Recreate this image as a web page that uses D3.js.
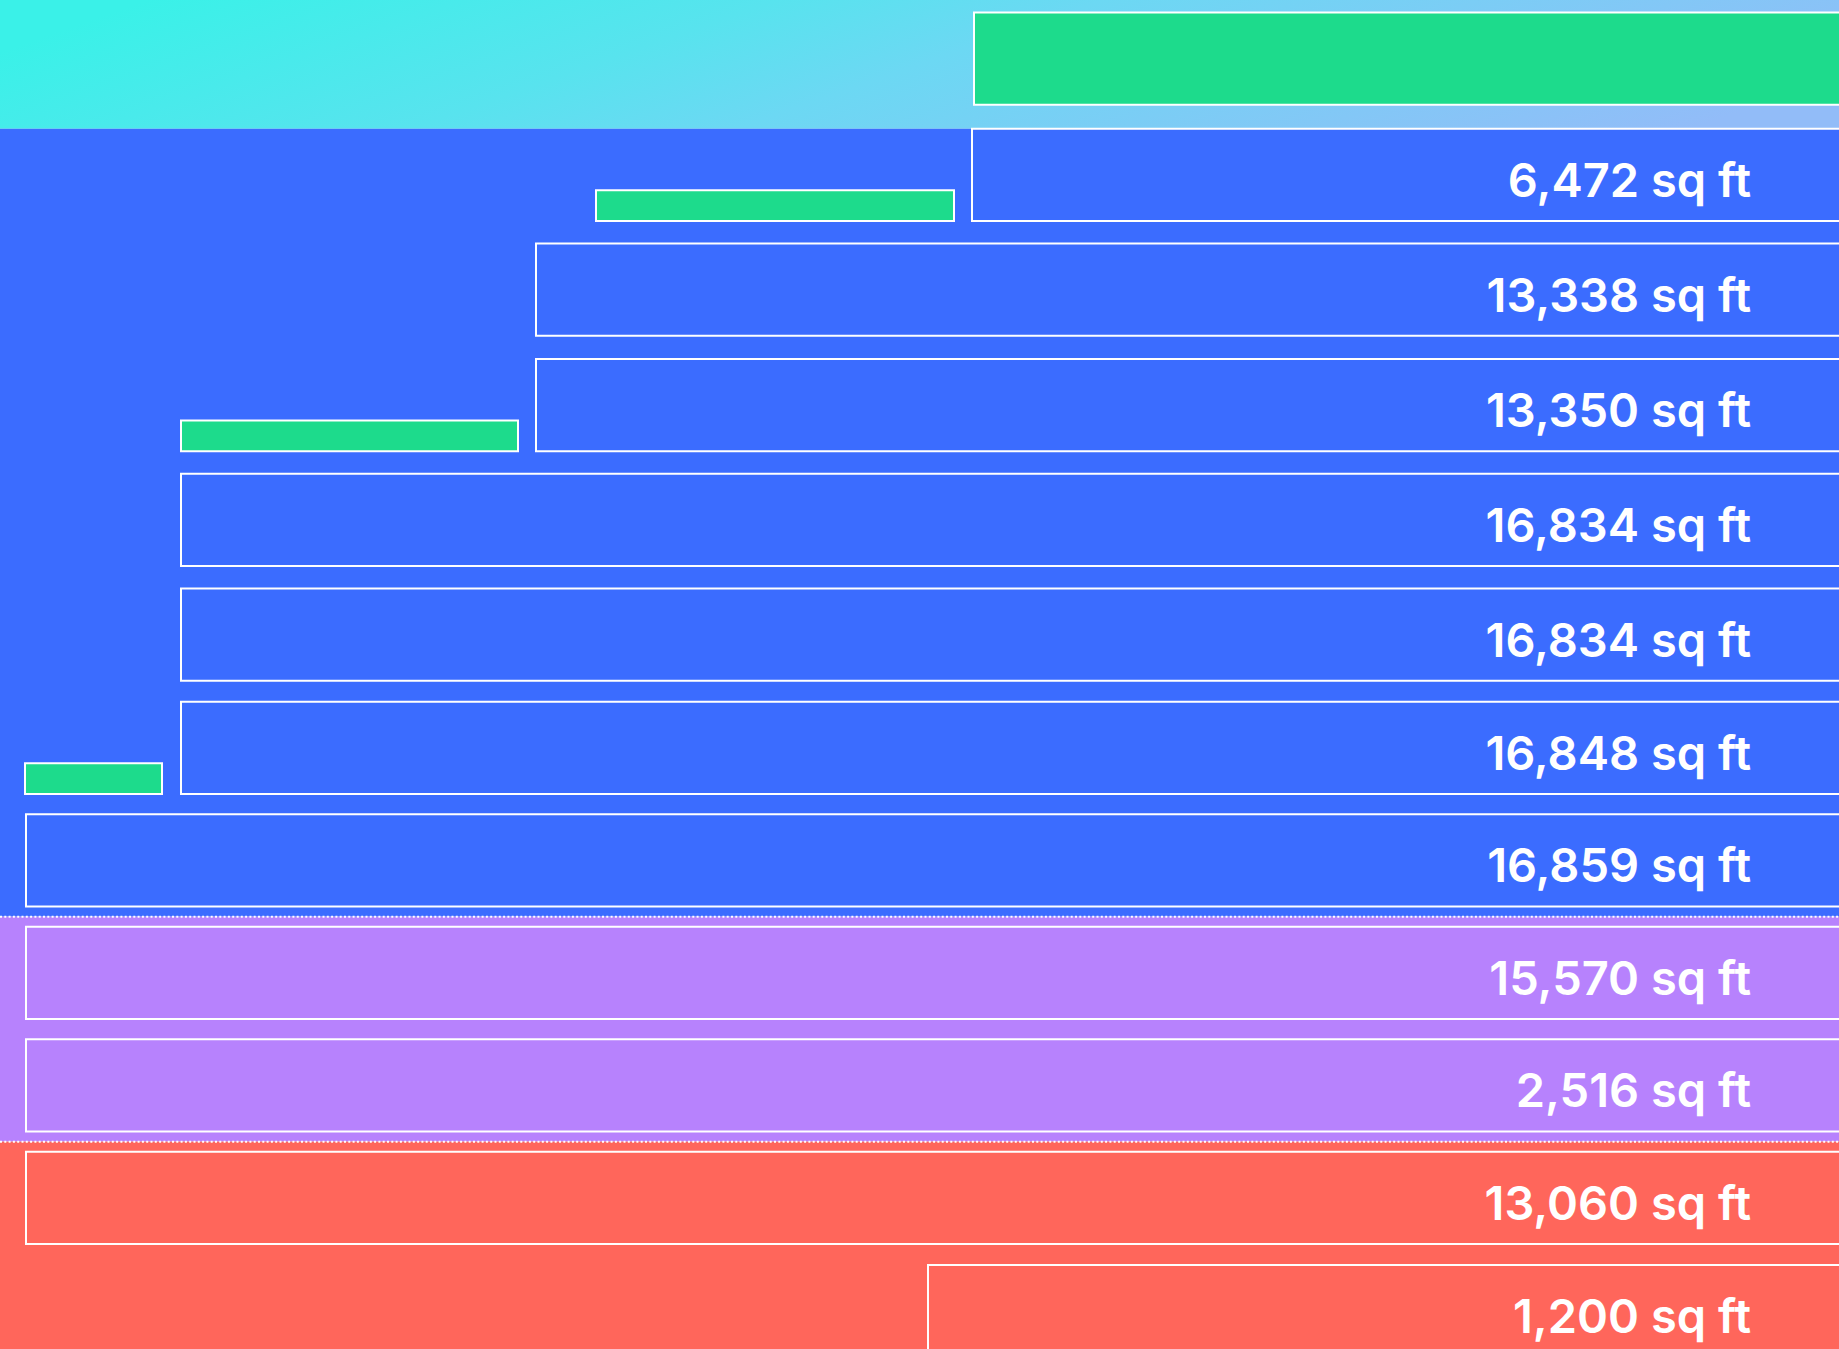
<!DOCTYPE html>
<meta charset="utf-8">
<html>
  <head>
    <title>Floor stack</title>
    <style>
      html,body{
        margin:0;
        padding:0;
        overflow:hidden;
      }
      text{
        font-family: Inter, 'Open Sans', sans-serif;
        font-weight: 600;
      }
      .floor-label{
        font-size: 47px;
        fill: #fff;
      }
    </style>
  </head>
  <body>
    <svg xmlns="http://www.w3.org/2000/svg"></svg>

    <script src="https://d3js.org/d3.v7.min.js"></script>
    <script type="text/javascript">
      var width = 1839, height = 1349;

      // rows from top: roof then floors
      var rows = ["roof", "F11", "F10", "F9", "F8", "F7", "F6", "F5", "F4", "F3", "F2", "F1"];
      var uses = ["roof", "office", "office", "office", "office", "office", "office", "office", "amenity", "amenity", "retail", "retail"];
      var areas = [null, 6472, 13338, 13350, 16834, 16834, 16848, 16859, 15570, 2516, 13060, 1200];
      // top of each floor plate, ft above grade
      var elevations = [182, 166.5, 151.2, 135.8, 120.5, 105.2, 90.1, 75.1, 60.1, 45.1, 30.1, 15];
      // west edge of each floor plate, ft
      var setbacks = [189.6, 189.2, 102, 102, 31, 31, 31, 0, 0, 0, 0, 180.4];
      var plateDepth = 12.3;

      // terraces on setbacks: row, from ft, to ft
      var terraceRows = [1, 3, 6];
      var terraceFrom = [114, 31, -0.2];
      var terraceTo = [185.6, 98.4, 27.2];
      var terraceDepth = 4.1;

      var colors = {
        office: "#3b6cff",
        amenity: "#b782fd",
        retail: "#ff665b",
        green: "#1ddb8c"
      };

      var svg = d3.select("svg")
        .attr("width", width)
        .attr("height", height);

      var x = d3.scaleLinear()
        .domain([0, 360])
        .range([26, 1826]);

      var y = d3.scaleLinear()
        .domain([0, 200])
        .range([1377.5, -122.5]);
      var plateH = y(0) - y(plateDepth);

      var defs = svg.append("defs");
      var grad = defs.append("linearGradient")
        .attr("id", "sky")
        .attr("x1", "0%").attr("y1", "40%")
        .attr("x2", "100%").attr("y2", "60%");
      grad.append("stop").attr("offset", "0%").attr("stop-color", "#3af1e8");
      grad.append("stop").attr("offset", "33%").attr("stop-color", "#58e3ee");
      grad.append("stop").attr("offset", "50%").attr("stop-color", "#6cd8f3");
      grad.append("stop").attr("offset", "100%").attr("stop-color", "#92bcf8");

      // background zones, split midway between floors
      var split = function(i){ return (y(elevations[i - 1]) + plateH + y(elevations[i])) / 2; };
      var zones = [
        {y0: 0, y1: y(elevations[1]), fill: "url(#sky)"},
        {y0: y(elevations[1]), y1: split(8), fill: colors.office},
        {y0: split(8), y1: split(10), fill: colors.amenity},
        {y0: split(10), y1: height, fill: colors.retail}
      ];
      svg.append("g").selectAll("rect")
        .data(zones).enter()
        .append("rect")
          .attr("x", 0)
          .attr("y", function(d){ return d.y0; })
          .attr("width", width)
          .attr("height", function(d){ return d.y1 - d.y0; })
          .style("fill", function(d){ return d.fill; });

      // dotted separators between uses
      svg.append("g").selectAll("line")
        .data([split(8), split(10)]).enter()
        .append("line")
          .attr("x1", 0).attr("x2", width)
          .attr("y1", function(d){ return d; })
          .attr("y2", function(d){ return d; })
          .style("stroke", "#fff")
          .style("stroke-width", 2)
          .style("stroke-dasharray", "2,2.3");

      var floorData = rows.map(function(r, i){
        return {row: r, i: i, use: uses[i], area: areas[i], setback: setbacks[i], elev: elevations[i]};
      });

      // floor plates
      svg.append("g").selectAll("rect")
        .data(floorData).enter()
        .append("rect")
          .attr("x", function(d){ return x(d.setback); })
          .attr("y", function(d){ return y(d.elev); })
          .attr("width", function(d){ return x(400) - x(d.setback); })
          .attr("height", plateH)
          .style("fill", function(d){ return d.use === "roof" ? colors.green : colors[d.use]; })
          .style("stroke", "#fff")
          .style("stroke-width", 2);

      // terraces
      var terraceH = y(0) - y(terraceDepth);
      svg.append("g").selectAll("rect")
        .data(terraceRows).enter()
        .append("rect")
          .attr("x", function(d, k){ return x(terraceFrom[k]); })
          .attr("y", function(d){ return y(elevations[d]) + plateH - terraceH; })
          .attr("width", function(d, k){ return x(terraceTo[k]) - x(terraceFrom[k]); })
          .attr("height", terraceH)
          .style("fill", colors.green)
          .style("stroke", "#fff")
          .style("stroke-width", 2);

      // area labels
      var fmt = d3.format(",");
      svg.append("g").selectAll("text")
        .data(floorData.filter(function(d){ return d.area != null; })).enter()
        .append("text")
          .attr("class", "floor-label")
          .attr("text-anchor", "end")
          .attr("x", 1751)
          .attr("y", function(d){ return y(d.elev) + plateH / 2 + 22; })
          .text(function(d){ return fmt(d.area) + " sq ft"; });
    </script>
  </body>
</html>
